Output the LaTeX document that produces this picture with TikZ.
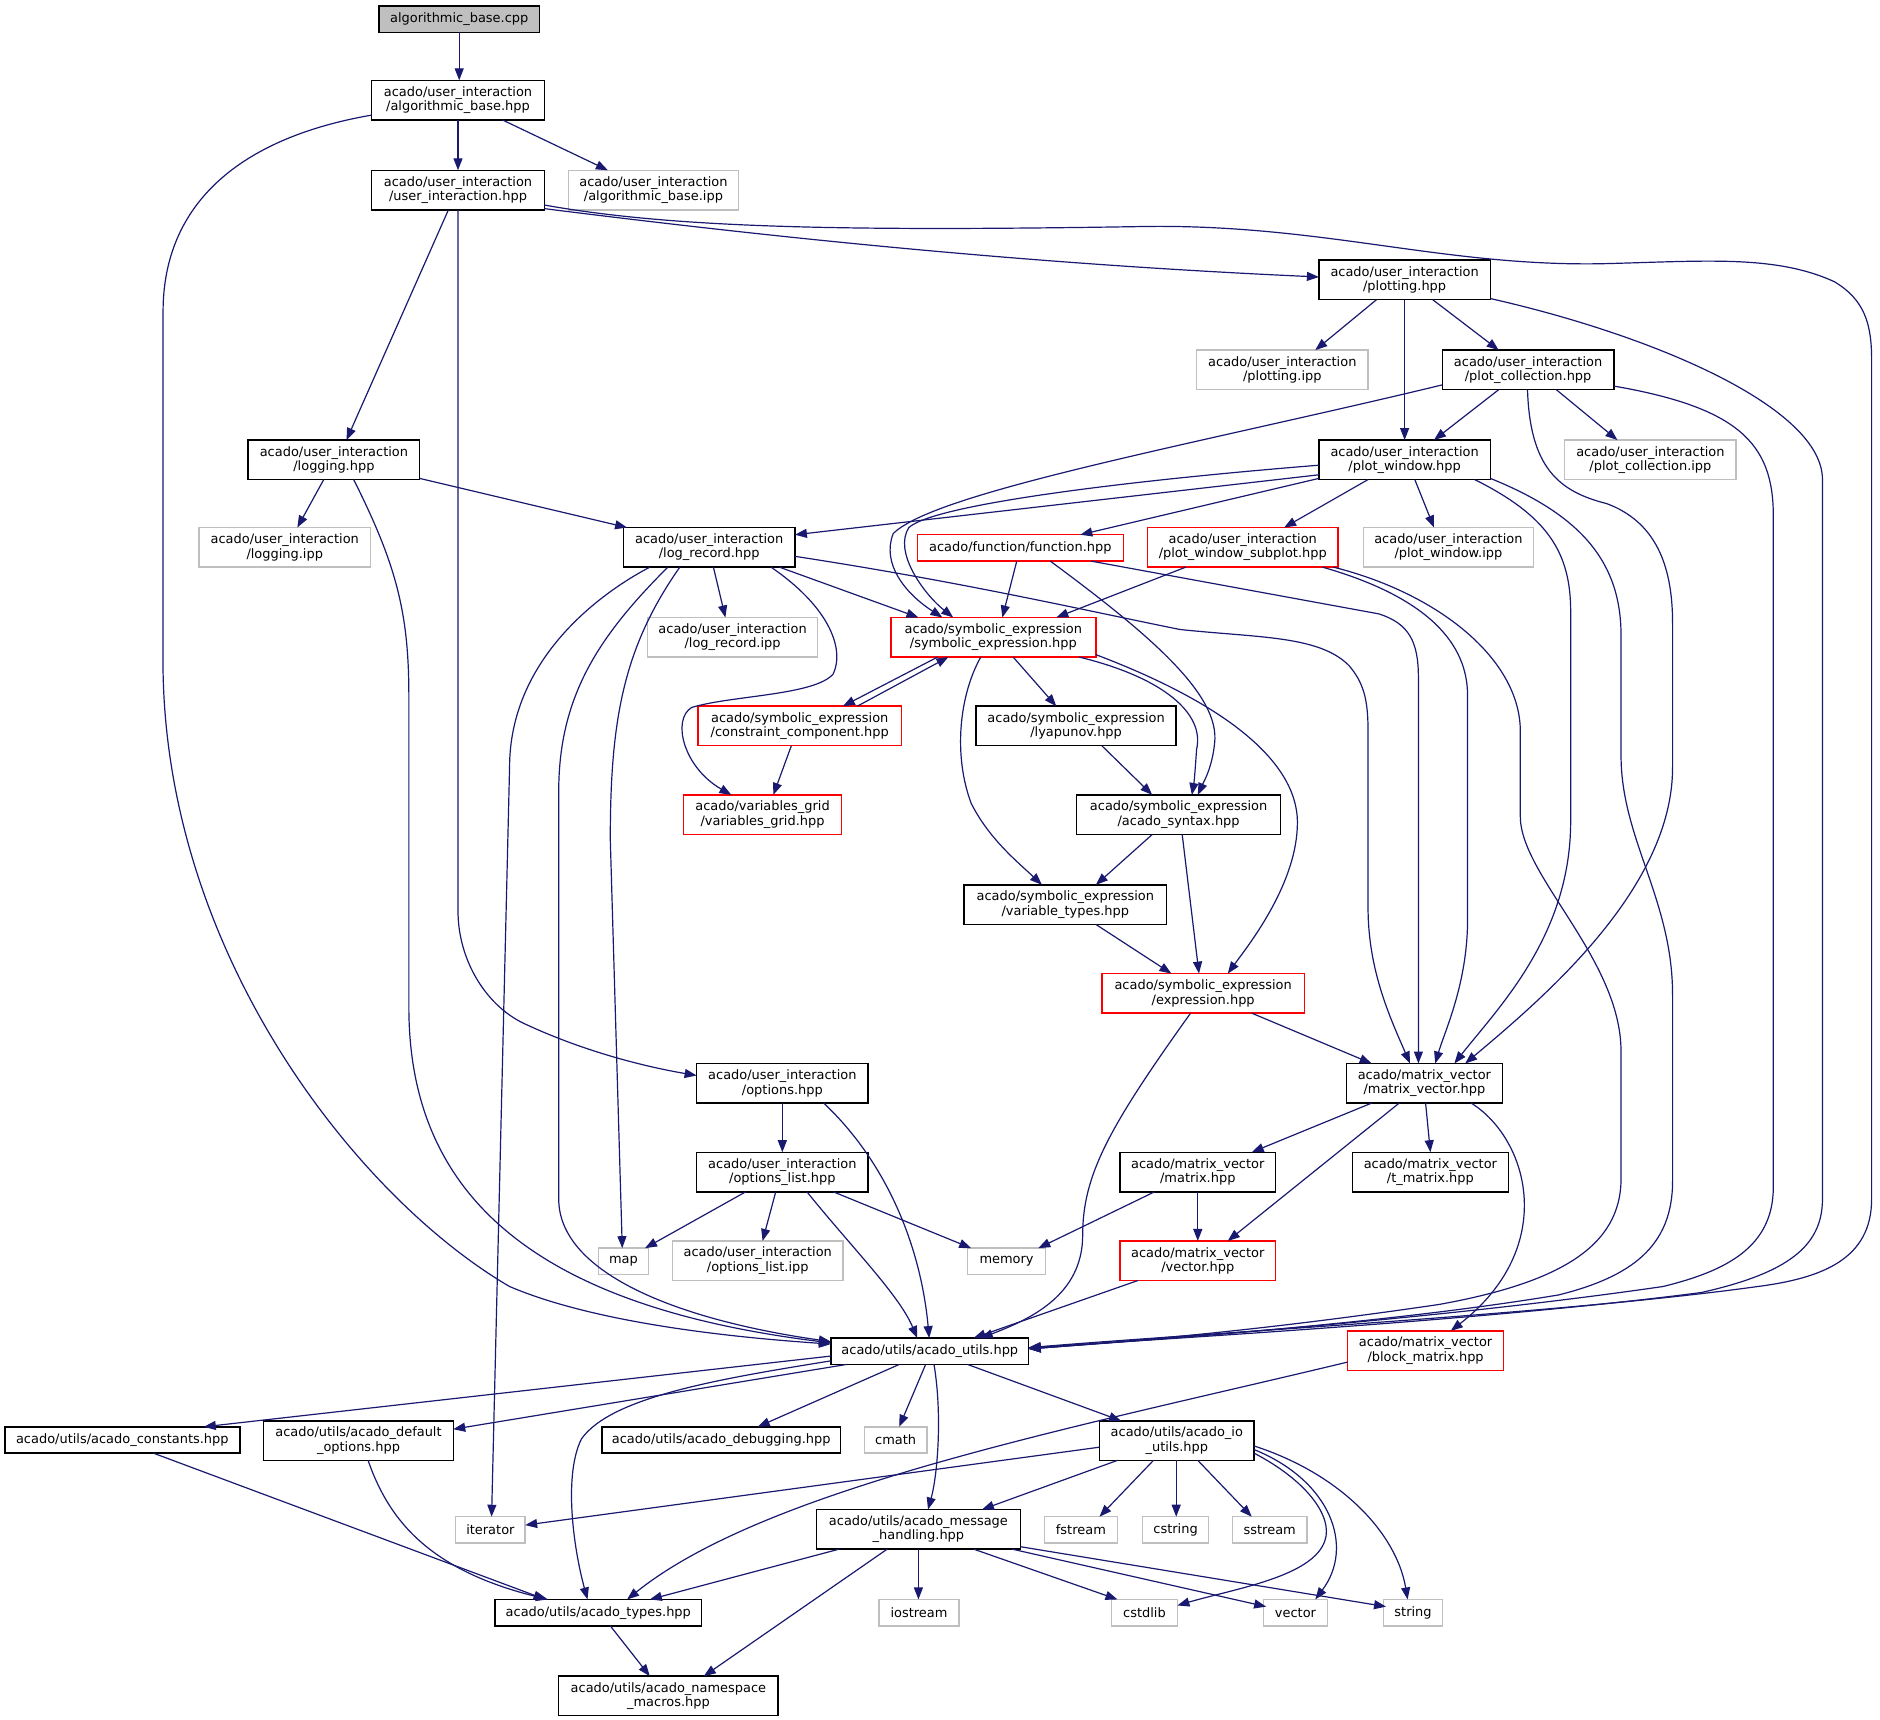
\documentclass[tikz,border=0pt]{standalone}
\usepackage{fontspec}
\setmainfont{DejaVu Sans}
\usetikzlibrary{arrows.meta}
\definecolor{edgec}{RGB}{25,25,112}
\definecolor{grayb}{RGB}{191,191,191}
\definecolor{cppfill}{RGB}{191,191,191}
\newcommand\nodefont{\fontsize{10.8}{12}\selectfont}
\tikzset{
  base/.style={line width=1.2pt, inner sep=0pt, outer sep=0pt, anchor=north west, align=center, font=\nodefont, text=black, fill=white},
  nb/.style={base, draw=black},
  nr/.style={base, draw=red},
  ng/.style={base, draw=grayb},
  nc/.style={base, draw=black, fill=cppfill},
  sz/.style 2 args={minimum width=#1pt, minimum height=#2pt},
  e/.style={draw=edgec, line width=1pt, -{Triangle[length=10pt,width=7.5pt]}},
}
\begin{document}
\begin{tikzpicture}[x=1pt,y=-1pt]
\fill[white] (0,0) rectangle (1568,1434);
\useasboundingbox (0,0) rectangle (1568,1434);
% nodes
\node[nc,sz={134}{22}] (cpp) at (316,5) {algorithmic\_base.cpp};
\node[nb,sz={144}{33}] (abh) at (310,67) {acado/user\_interaction\\/algorithmic\_base.hpp};
\node[ng,sz={142}{33}] (abipp) at (474,142) {acado/user\_interaction\\/algorithmic\_base.ipp};
\node[nb,sz={144}{33}] (ui) at (310,142) {acado/user\_interaction\\/user\_interaction.hpp};
\node[nb,sz={143}{33}] (plotting) at (1100,217) {acado/user\_interaction\\/plotting.hpp};
\node[ng,sz={143}{33}] (plottingipp) at (998,292) {acado/user\_interaction\\/plotting.ipp};
\node[nb,sz={143}{33}] (plotcoll) at (1203,292) {acado/user\_interaction\\/plot\_collection.hpp};
\node[ng,sz={143}{33}] (pcipp) at (1305,367) {acado/user\_interaction\\/plot\_collection.ipp};
\node[nb,sz={143}{33}] (plotwin) at (1100,367) {acado/user\_interaction\\/plot\_window.hpp};
\node[nb,sz={143}{33}] (logging) at (207,367) {acado/user\_interaction\\/logging.hpp};
\node[ng,sz={143}{33}] (loggingipp) at (166,440) {acado/user\_interaction\\/logging.ipp};
\node[nb,sz={143}{33}] (logrec) at (520,440) {acado/user\_interaction\\/log\_record.hpp};
\node[nr,sz={172}{22}] (function) at (765,446) {acado/function/function.hpp};
\node[nr,sz={159}{33}] (pws) at (957,440) {acado/user\_interaction\\/plot\_window\_subplot.hpp};
\node[ng,sz={142}{33}] (pwipp) at (1137,440) {acado/user\_interaction\\/plot\_window.ipp};
\node[nr,sz={171}{33}] (symexpr) at (743,515) {acado/symbolic\_expression\\/symbolic\_expression.hpp};
\node[ng,sz={142}{33}] (lripp) at (540,515) {acado/user\_interaction\\/log\_record.ipp};
\node[nr,sz={170}{33}] (cc) at (582,589) {acado/symbolic\_expression\\/constraint\_component.hpp};
\node[nb,sz={167}{33}] (lyap) at (814,589) {acado/symbolic\_expression\\/lyapunov.hpp};
\node[nr,sz={132}{33}] (vg) at (570,663) {acado/variables\_grid\\/variables\_grid.hpp};
\node[nb,sz={170}{33}] (syntax) at (898,663) {acado/symbolic\_expression\\/acado\_syntax.hpp};
\node[nb,sz={169}{33}] (vtypes) at (804,738) {acado/symbolic\_expression\\/variable\_types.hpp};
\node[nr,sz={169}{33}] (expr) at (919,812) {acado/symbolic\_expression\\/expression.hpp};
\node[nb,sz={130}{33}] (mv) at (1123,887) {acado/matrix\_vector\\/matrix\_vector.hpp};
\node[nb,sz={143}{33}] (options) at (581,887) {acado/user\_interaction\\/options.hpp};
\node[nb,sz={143}{33}] (optlist) at (581,961) {acado/user\_interaction\\/options\_list.hpp};
\node[nb,sz={130}{33}] (matrix) at (934,961) {acado/matrix\_vector\\/matrix.hpp};
\node[nb,sz={130}{33}] (tmatrix) at (1128,961) {acado/matrix\_vector\\/t\_matrix.hpp};
\node[ng,sz={42}{22}] (map) at (499,1041) {map};
\node[ng,sz={142}{33}] (olipp) at (561,1035) {acado/user\_interaction\\/options\_list.ipp};
\node[ng,sz={65}{22}] (memory) at (807,1041) {memory};
\node[nr,sz={130}{33}] (vector) at (934,1035) {acado/matrix\_vector\\/vector.hpp};
\node[nb,sz={165}{22}] (utils) at (693,1116) {acado/utils/acado\_utils.hpp};
\node[nr,sz={130}{33}] (block) at (1124,1110) {acado/matrix\_vector\\/block\_matrix.hpp};
\node[nb,sz={196}{22}] (constants) at (4,1190) {acado/utils/acado\_constants.hpp};
\node[nb,sz={158}{33}] (defopts) at (220,1185) {acado/utils/acado\_default\\\_options.hpp};
\node[nb,sz={199}{22}] (debugging) at (502,1190) {acado/utils/acado\_debugging.hpp};
\node[ng,sz={52}{22}] (cmath) at (721,1190) {cmath};
\node[nb,sz={129}{33}] (ioutils) at (917,1185) {acado/utils/acado\_io\\\_utils.hpp};
\node[ng,sz={58}{22}] (iterator) at (380,1265) {iterator};
\node[nb,sz={170}{33}] (msg) at (681,1259) {acado/utils/acado\_message\\\_handling.hpp};
\node[ng,sz={61}{22}] (fstream) at (871,1265) {fstream};
\node[ng,sz={55}{22}] (cstring) at (953,1265) {cstring};
\node[ng,sz={62}{22}] (sstream) at (1028,1265) {sstream};
\node[nb,sz={172}{22}] (types) at (413,1334) {acado/utils/acado\_types.hpp};
\node[ng,sz={67}{22}] (iostream) at (733,1334) {iostream};
\node[ng,sz={55}{22}] (cstdlib) at (927,1334) {cstdlib};
\node[ng,sz={53}{22}] (vectorh) at (1054,1334) {vector};
\node[ng,sz={49}{22}] (string) at (1154,1334) {string};
\node[nb,sz={183}{33}] (ns) at (466,1398) {acado/utils/acado\_namespace\\\_macros.hpp};
% edges
\draw[e] ([shift={(67,22)}]cpp.north west) -- ([shift={(73,0)}]abh.north west);
\draw[e] ([shift={(72,33)}]abh.north west) -- ([shift={(72,0)}]ui.north west);
\draw[e] ([shift={(109,33)}]abh.north west) -- ([shift={(33,0)}]abipp.north west);
\draw[e] ([shift={(0,29)}]abh.north west) .. controls (200,115) and (136,170) .. (136,260) -- (136,560) .. controls (140,800) and (300,1000) .. (425,1073) .. controls (500,1105) and (620,1116) .. ([shift={(0,5)}]utils.north west);
\draw[e] ([shift={(64,33)}]ui.north west) -- ([shift={(82,0)}]logging.north west);
\draw[e] ([shift={(72,33)}]ui.north west) -- (382,760) .. controls (382,800) and (405,840) .. (440,855) .. controls (490,878) and (540,890) .. ([shift={(0,10)}]options.north west);
\draw[e] ([shift={(144,32)}]ui.north west) .. controls (700,205) and (900,222) .. ([shift={(0,14)}]plotting.north west);
\draw[e] ([shift={(144,29)}]ui.north west) .. controls (560,190) and (700,193) .. (949,189) .. controls (1100,186) and (1200,222) .. (1334,220) .. controls (1420,218) and (1480,212) .. (1530,235) .. controls (1555,250) and (1561,270) .. (1561,300) -- (1561,1000) .. controls (1561,1050) and (1520,1066) .. (1466,1073) .. controls (1300,1096) and (1000,1112) .. ([shift={(165,8)}]utils.north west);
\draw[e] ([shift={(63,33)}]logging.north west) -- ([shift={(82,0)}]loggingipp.north west);
\draw[e] ([shift={(143,32)}]logging.north west) -- ([shift={(3,0)}]logrec.north west);
\draw[e] ([shift={(88,33)}]logging.north west) .. controls (330,470) and (341,510) .. (341,580) -- (341,840) .. controls (341,1000) and (450,1090) .. ([shift={(0,4)}]utils.north west);
\draw[e] ([shift={(48,33)}]plotting.north west) -- ([shift={(99,0)}]plottingipp.north west);
\draw[e] ([shift={(95,33)}]plotting.north west) -- ([shift={(47,0)}]plotcoll.north west);
\draw[e] ([shift={(71.5,33)}]plotting.north west) -- ([shift={(71.5,0)}]plotwin.north west);
\draw[e] ([shift={(143,32)}]plotting.north west) .. controls (1380,280) and (1520,340) .. (1520,400) -- (1520,1000) .. controls (1520,1040) and (1490,1062) .. (1419,1078) .. controls (1250,1100) and (1000,1115) .. ([shift={(165,8)}]utils.north west);
\draw[e] ([shift={(47,33)}]plotcoll.north west) -- ([shift={(96,0)}]plotwin.north west);
\draw[e] ([shift={(95,33)}]plotcoll.north west) -- ([shift={(44,0)}]pcipp.north west);
\draw[e] ([shift={(0,29)}]plotcoll.north west) .. controls (1000,370) and (780,410) .. (745,445) .. controls (735,470) and (755,495) .. ([shift={(43,0)}]symexpr.north west);
\draw[e] ([shift={(71,33)}]plotcoll.north west) .. controls (1276,390) and (1300,410) .. (1340,420) .. controls (1380,435) and (1395,470) .. (1395,520) -- (1395,640) .. controls (1395,740) and (1290,830) .. ([shift={(99,0)}]mv.north west);
\draw[e] ([shift={(143,30)}]plotcoll.north west) .. controls (1450,340) and (1479,370) .. (1479,430) -- (1479,990) .. controls (1479,1040) and (1440,1060) .. (1387,1073) .. controls (1200,1100) and (1000,1114) .. ([shift={(165,9)}]utils.north west);
\draw[e] ([shift={(0,29)}]plotwin.north west) -- ([shift={(143,6)}]logrec.north west);
\draw[e] ([shift={(0,21)}]plotwin.north west) .. controls (950,400) and (780,420) .. (758,440) .. controls (745,460) and (770,495) .. ([shift={(52,0)}]symexpr.north west);
\draw[e] ([shift={(0,32)}]plotwin.north west) -- ([shift={(136,0)}]function.north west);
\draw[e] ([shift={(41,33)}]plotwin.north west) -- ([shift={(114,0)}]pws.north west);
\draw[e] ([shift={(80,33)}]plotwin.north west) -- ([shift={(59,0)}]pwipp.north west);
\draw[e] ([shift={(130,33)}]plotwin.north west) .. controls (1290,430) and (1310,460) .. (1310,510) -- (1310,685) .. controls (1310,780) and (1250,840) .. ([shift={(90,0)}]mv.north west);
\draw[e] ([shift={(143,32)}]plotwin.north west) .. controls (1320,430) and (1352,470) .. (1352,530) -- (1352,630) .. controls (1352,700) and (1395,750) .. (1395,830) -- (1395,985) .. controls (1395,1040) and (1360,1065) .. (1300,1080) .. controls (1150,1105) and (950,1118) .. ([shift={(165,9)}]utils.north west);
\draw[e] ([shift={(32,33)}]pws.north west) -- ([shift={(138,0)}]symexpr.north west);
\draw[e] ([shift={(146,33)}]pws.north west) .. controls (1180,495) and (1224,530) .. (1224,580) -- (1224,767) .. controls (1224,820) and (1205,860) .. ([shift={(74,0)}]mv.north west);
\draw[e] ([shift={(155,33)}]pws.north west) .. controls (1200,495) and (1268,550) .. (1268,610) -- (1268,681) .. controls (1268,730) and (1352,800) .. (1352,877) -- (1352,983) .. controls (1352,1040) and (1300,1070) .. (1200,1088) .. controls (1050,1110) and (950,1118) .. ([shift={(165,9)}]utils.north west);
\draw[e] ([shift={(83,22)}]function.north west) -- ([shift={(93,0)}]symexpr.north west);
\draw[e] ([shift={(111,22)}]function.north west) .. controls (960,530) and (1018,580) .. (1013,620) .. controls (1011,640) and (1004,652) .. ([shift={(101,0)}]syntax.north west);
\draw[e] ([shift={(145,22)}]function.north west) -- (1150,512) .. controls (1175,520) and (1183,535) .. (1183,565) -- ([shift={(60,0)}]mv.north west);
\draw[e] ([shift={(143,24)}]logrec.north west) .. controls (800,485) and (900,508) .. (984,525) .. controls (1050,532) and (1100,530) .. (1125,555) .. controls (1138,570) and (1141,585) .. (1141,610) -- (1141,757) .. controls (1141,810) and (1160,850) .. ([shift={(53,0)}]mv.north west);
\draw[e] ([shift={(75,33)}]logrec.north west) -- ([shift={(65,0)}]lripp.north west);
\draw[e] ([shift={(130,33)}]logrec.north west) -- ([shift={(23,0)}]symexpr.north west);
\draw[e] ([shift={(123,33)}]logrec.north west) .. controls (690,505) and (705,540) .. (695,562) .. controls (680,580) and (610,580) .. (577,590) .. controls (560,600) and (570,640) .. ([shift={(40,0)}]vg.north west);
\draw[e] ([shift={(22,33)}]logrec.north west) .. controls (500,495) and (425,550) .. (425,640) -- ([shift={(30,0)}]iterator.north west);
\draw[e] ([shift={(37,33)}]logrec.north west) .. controls (500,530) and (466,580) .. (466,660) -- (466,1000) .. controls (466,1060) and (560,1100) .. ([shift={(0,3)}]utils.north west);
\draw[e] ([shift={(47,33)}]logrec.north west) .. controls (520,540) and (509,600) .. (509,700) -- ([shift={(20,0)}]map.north west);
\draw[e] ([shift={(71.5,33)}]options.north west) -- ([shift={(71.5,0)}]optlist.north west);
\draw[e] ([shift={(106,33)}]options.north west) .. controls (740,970) and (768,1040) .. ([shift={(82,0)}]utils.north west);
\draw[e] ([shift={(92,33)}]optlist.north west) .. controls (710,1040) and (750,1080) .. ([shift={(72,0)}]utils.north west);
\draw[e] ([shift={(41,33)}]optlist.north west) -- ([shift={(39,0)}]map.north west);
\draw[e] ([shift={(66,33)}]optlist.north west) -- ([shift={(75,0)}]olipp.north west);
\draw[e] ([shift={(114,33)}]optlist.north west) -- ([shift={(3,0)}]memory.north west);
\draw[e] ([shift={(29,33)}]matrix.north west) -- ([shift={(59,0)}]memory.north west);
\draw[e] ([shift={(65,33)}]matrix.north west) -- ([shift={(65,0)}]vector.north west);
\draw[e] ([shift={(21,33)}]mv.north west) -- ([shift={(110,0)}]matrix.north west);
\draw[e] ([shift={(44,33)}]mv.north west) -- ([shift={(90,0)}]vector.north west);
\draw[e] ([shift={(66,33)}]mv.north west) -- ([shift={(65,0)}]tmatrix.north west);
\draw[e] ([shift={(104,33)}]mv.north west) .. controls (1275,950) and (1300,1040) .. ([shift={(86,0)}]block.north west);
\draw[e] ([shift={(15,33)}]vector.north west) -- ([shift={(119,0)}]utils.north west);
\draw[e] ([shift={(74,33)}]expr.north west) .. controls (925,940) and (903,980) .. (903,1030) .. controls (903,1080) and (860,1100) .. ([shift={(125,0)}]utils.north west);
\draw[e] ([shift={(125,33)}]expr.north west) -- ([shift={(21,0)}]mv.north west);
\draw[e] ([shift={(39,33)}]symexpr.north west) -- ([shift={(121,0)}]cc.north west);
\draw[e] ([shift={(133,0)}]cc.north west) -- ([shift={(48,33)}]symexpr.north west);
\draw[e] ([shift={(78,33)}]cc.north west) -- ([shift={(75,0)}]vg.north west);
\draw[e] ([shift={(102,33)}]symexpr.north west) -- ([shift={(67,0)}]lyap.north west);
\draw[e] ([shift={(75,33)}]symexpr.north west) .. controls (800,580) and (795,630) .. (810,670) .. controls (825,700) and (850,720) .. ([shift={(65,0)}]vtypes.north west);
\draw[e] ([shift={(157,33)}]symexpr.north west) .. controls (970,565) and (1005,595) .. (998,625) .. controls (997,640) and (996,652) .. ([shift={(96,0)}]syntax.north west);
\draw[e] ([shift={(171,31)}]symexpr.north west) .. controls (1030,590) and (1085,640) .. (1082,690) .. controls (1080,740) and (1040,790) .. ([shift={(105,0)}]expr.north west);
\draw[e] ([shift={(105,33)}]lyap.north west) -- ([shift={(63,0)}]syntax.north west);
\draw[e] ([shift={(63,33)}]syntax.north west) -- ([shift={(110,0)}]vtypes.north west);
\draw[e] ([shift={(88,33)}]syntax.north west) -- ([shift={(81,0)}]expr.north west);
\draw[e] ([shift={(110,33)}]vtypes.north west) -- ([shift={(58,0)}]expr.north west);
\draw[e] ([shift={(0,15)}]utils.north west) -- ([shift={(166,0)}]constants.north west);
\draw[e] ([shift={(13,22)}]utils.north west) -- ([shift={(158,7)}]defopts.north west);
\draw[e] ([shift={(0,19)}]utils.north west) .. controls (600,1150) and (510,1165) .. (485,1200) .. controls (470,1230) and (478,1290) .. ([shift={(77,0)}]types.north west);
\draw[e] ([shift={(57,22)}]utils.north west) -- ([shift={(130,0)}]debugging.north west);
\draw[e] ([shift={(79,22)}]utils.north west) -- ([shift={(29,0)}]cmath.north west);
\draw[e] ([shift={(86,22)}]utils.north west) .. controls (786,1180) and (782,1230) .. ([shift={(93,0)}]msg.north west);
\draw[e] ([shift={(114,22)}]utils.north west) -- ([shift={(18,0)}]ioutils.north west);
\draw[e] ([shift={(0,22)}]ioutils.north west) -- ([shift={(58,7)}]iterator.north west);
\draw[e] ([shift={(15,33)}]ioutils.north west) -- ([shift={(138,0)}]msg.north west);
\draw[e] ([shift={(45,33)}]ioutils.north west) -- ([shift={(46,0)}]fstream.north west);
\draw[e] ([shift={(64,33)}]ioutils.north west) -- ([shift={(28,0)}]cstring.north west);
\draw[e] ([shift={(82,33)}]ioutils.north west) -- ([shift={(16,0)}]sstream.north west);
\draw[e] ([shift={(129,27)}]ioutils.north west) .. controls (1090,1235) and (1112,1265) .. (1105,1285) .. controls (1095,1315) and (1030,1325) .. ([shift={(55,5)}]cstdlib.north west);
\draw[e] ([shift={(129,24)}]ioutils.north west) .. controls (1110,1235) and (1130,1290) .. ([shift={(43,0)}]vectorh.north west);
\draw[e] ([shift={(129,21)}]ioutils.north west) .. controls (1120,1230) and (1165,1280) .. ([shift={(20,0)}]string.north west);
\draw[e] ([shift={(19,33)}]msg.north west) -- ([shift={(129,0)}]types.north west);
\draw[e] ([shift={(59,33)}]msg.north west) -- ([shift={(121,0)}]ns.north west);
\draw[e] ([shift={(85,33)}]msg.north west) -- ([shift={(33,0)}]iostream.north west);
\draw[e] ([shift={(131,33)}]msg.north west) -- ([shift={(5,0)}]cstdlib.north west);
\draw[e] ([shift={(163,33)}]msg.north west) -- ([shift={(2,6)}]vectorh.north west);
\draw[e] ([shift={(170,31)}]msg.north west) -- ([shift={(2,6)}]string.north west);
\draw[e] ([shift={(96,22)}]types.north west) -- ([shift={(76,0)}]ns.north west);
\draw[e] ([shift={(124,22)}]constants.north west) -- ([shift={(42,0)}]types.north west);
\draw[e] ([shift={(87,33)}]defopts.north west) .. controls (325,1270) and (360,1310) .. ([shift={(44,0)}]types.north west);
\draw[e] ([shift={(0,26)}]block.north west) .. controls (900,1190) and (640,1240) .. ([shift={(110,0)}]types.north west);
\end{tikzpicture}
\end{document}
